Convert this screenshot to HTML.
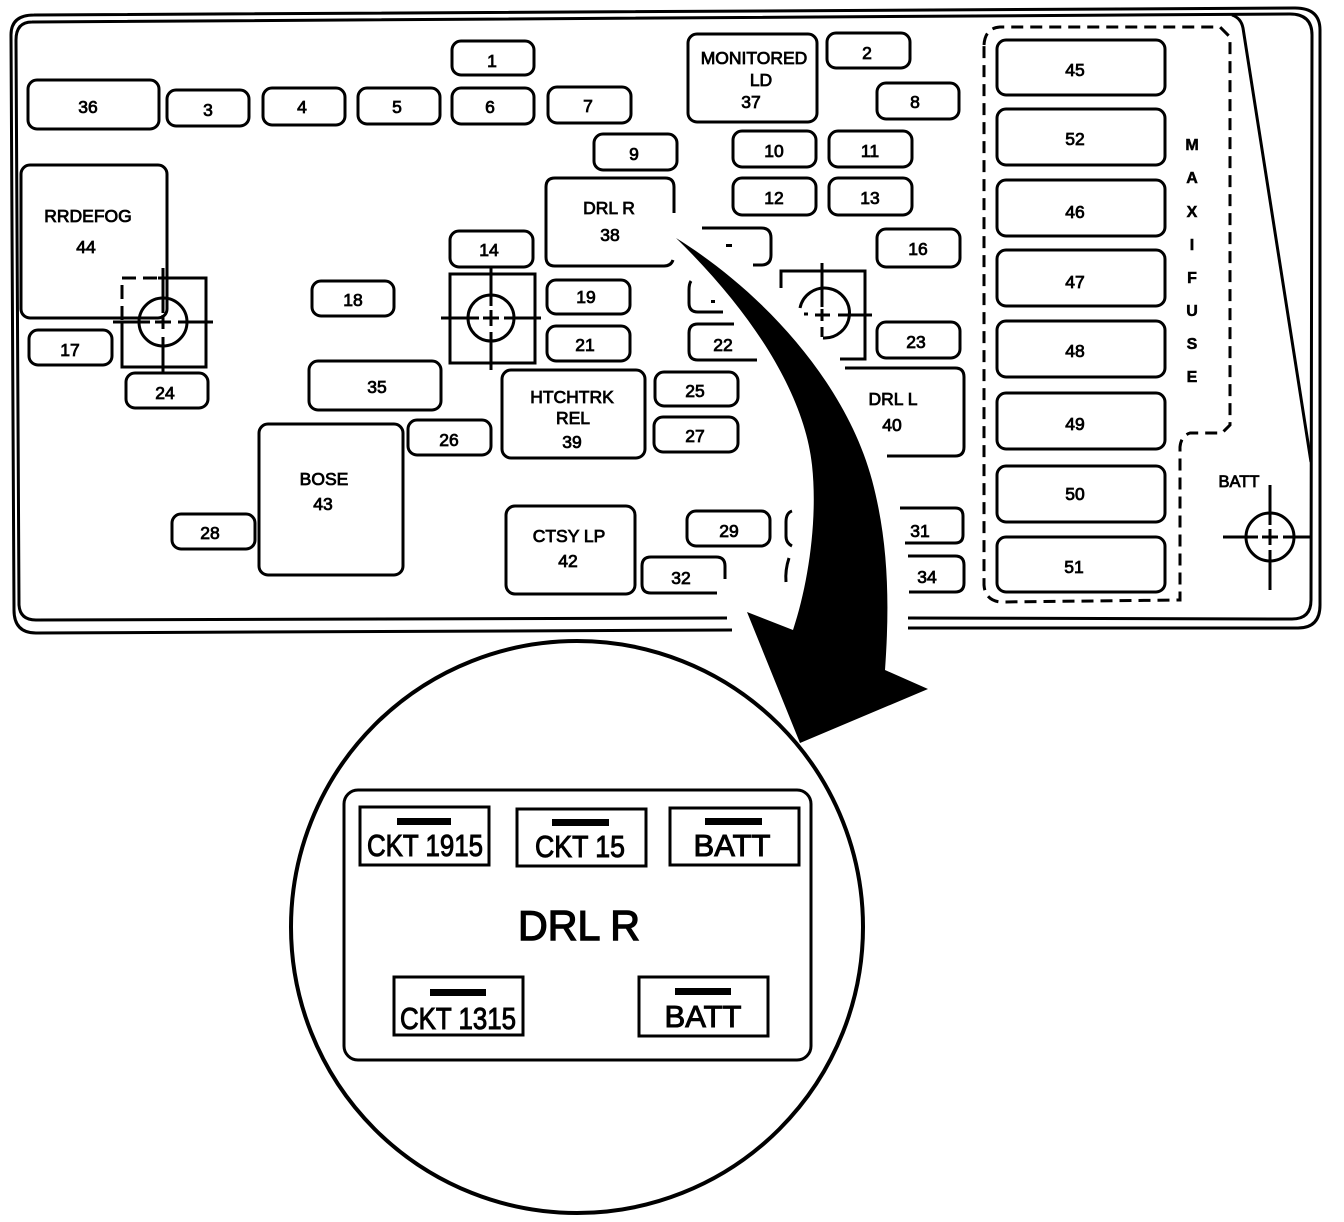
<!DOCTYPE html>
<html><head><meta charset="utf-8"><title>Fuse block diagram</title>
<style>
html,body{margin:0;padding:0;background:#fff;width:1344px;height:1222px;overflow:hidden}
svg{display:block}
.f{fill:none;stroke:#000;stroke-width:3}
.s{fill:none;stroke:#000;stroke-width:3;stroke-linecap:butt}
text{font-family:"Liberation Sans",Arial,sans-serif;fill:#000;stroke:#000;stroke-width:.8;font-size:17.5px;text-anchor:middle}
.m{font-size:16px;font-weight:bold;stroke-width:.5}
.b{font-size:31px;stroke-width:1}
</style></head><body>
<svg width="1344" height="1222" viewBox="0 0 1344 1222" xmlns="http://www.w3.org/2000/svg">
<!-- housing -->
<path class="s" d="M34,15 L1295,8 Q1320,8 1320,30 L1320,605 Q1320,628 1298,628 L908,628 M732,630 L36,633 Q14,633 14,610 L11,35 Q11,15 34,15"/>
<path class="s" d="M32,22 L1290,14 Q1312,14 1312,35 L1311,600 Q1311,619 1292,619 L908,618 M727,618 L36,620 Q20,620 19,605 L16,40 Q16,22 32,22"/>
<path class="s" d="M1232,15 Q1241,18 1243,28 L1311,462"/>
<!-- maxi dashed -->
<path d="M984,45 Q985,28 1000,27 L1220,27 L1230,37 L1230,425 L1222,433 L1190,433 Q1181,436 1180,447 L1180,600 L1000,602 Q985,600 984,585 Z" fill="none" stroke="#000" stroke-width="3" stroke-dasharray="12 7"/>
<!-- small fuses -->
<g class="f">
<rect x="452" y="41" width="82" height="34" rx="9"/>
<rect x="827" y="33" width="83" height="35" rx="9"/>
<rect x="28" y="80" width="131" height="49" rx="9"/>
<rect x="167" y="90" width="82" height="36" rx="9"/>
<rect x="263" y="88" width="82" height="37" rx="9"/>
<rect x="358" y="88" width="82" height="36" rx="9"/>
<rect x="452" y="88" width="82" height="36" rx="9"/>
<rect x="548" y="87" width="83" height="36" rx="9"/>
<rect x="877" y="83" width="82" height="36" rx="9"/>
<rect x="688" y="34" width="129" height="88" rx="9"/>
<rect x="594" y="134" width="83" height="36" rx="9"/>
<rect x="733" y="131" width="83" height="36" rx="9"/>
<rect x="829" y="131" width="83" height="36" rx="9"/>
<rect x="733" y="178" width="83" height="37" rx="9"/>
<rect x="829" y="178" width="83" height="37" rx="9"/>
<rect x="877" y="229" width="83" height="38" rx="9"/>
<rect x="450" y="231" width="83" height="36" rx="9"/>
<rect x="312" y="281" width="82" height="35" rx="9"/>
<rect x="547" y="280" width="83" height="34" rx="9"/>
<rect x="547" y="326" width="83" height="35" rx="9"/>
<rect x="877" y="322" width="83" height="36" rx="9"/>
<rect x="29" y="330" width="83" height="35" rx="9"/>
<rect x="126" y="373" width="82" height="35" rx="9"/>
<rect x="309" y="361" width="132" height="49" rx="9"/>
<rect x="21" y="165" width="146" height="153" rx="9"/>
<rect x="655" y="372" width="83" height="34" rx="9"/>
<rect x="654" y="417" width="84" height="35" rx="9"/>
<rect x="408" y="420" width="83" height="35" rx="9"/>
<rect x="502" y="370" width="143" height="88" rx="9"/>
<rect x="259" y="424" width="144" height="151" rx="9"/>
<rect x="172" y="514" width="83" height="35" rx="9"/>
<rect x="687" y="511" width="83" height="35" rx="9"/>
<rect x="506" y="506" width="129" height="88" rx="9"/>
<!-- maxi -->
<rect x="997" y="40" width="168" height="55" rx="9"/>
<rect x="997" y="109" width="168" height="56" rx="9"/>
<rect x="997" y="180" width="168" height="56" rx="9"/>
<rect x="997" y="250" width="168" height="56" rx="9"/>
<rect x="997" y="321" width="168" height="56" rx="9"/>
<rect x="997" y="393" width="168" height="56" rx="9"/>
<rect x="997" y="466" width="168" height="56" rx="9"/>
<rect x="997" y="537" width="168" height="55" rx="9"/>
<!-- partial shapes cut by the arrow -->
<path d="M674,213 V187 Q674,178 665,178 H555 Q546,178 546,187 V257 Q546,266 555,266 H664 Q671,266 673,260"/>
<path d="M702,228 H761 Q771,228 771,238 V255 Q771,265 761,265 H753"/>
<path d="M691,281 Q689,284 689,290 V303 Q689,312 698,312 H723"/>
<path d="M734,324 H698 Q689,324 689,333 V351 Q689,360 698,360 H757"/>
<path d="M845,368 H955 Q964,368 964,377 V447 Q964,456 955,456 H887"/>
<path d="M792,511 Q786,513 786,522 V536 Q786,543 792,546"/>
<path d="M789,558 Q785,570 786,582"/>
<path d="M900,508 H955 Q963,508 963,516 V535 Q963,543 955,543 H905"/>
<path d="M908,556 H955 Q964,556 964,565 V583 Q964,592 955,592 H909"/>
<path d="M725,579 V566 Q725,557 716,557 H651 Q642,557 642,566 V584 Q642,593 651,593 H717"/>
</g>
<rect x="726" y="244" width="6" height="3"/><rect x="711" y="300" width="4" height="3"/>
<!-- crosshair A -->
<g class="s">
<path d="M122,322 V367 H206 V278 H158"/>
<path d="M122,320 V278 H158" stroke-dasharray="14 7"/>
<circle cx="163" cy="322" r="24"/>
<path d="M113,322 H150 M155,322 H171 M178,322 H213 M163,268 V313 M163,315 V329 M163,337 V372"/>
</g>
<!-- crosshair B -->
<g class="s">
<rect x="450" y="274" width="85" height="89"/>
<circle cx="491" cy="318" r="23"/>
<path d="M441,318 H479 M483,318 H499 M504,318 H541 M491,266 V306 M491,310 V326 M491,332 V370"/>
</g>
<!-- crosshair C -->
<g class="s">
<path d="M781,288 V271 H865 V359 H840"/>
<path d="M800,308 A25,25 0 1 1 823,338"/>
<path d="M822,263 V307 M815,315 H830 M822,309 V321 M822,327 V337 M838,315 H872 M804,314 H808"/>
</g>
<!-- crosshair BATT -->
<g class="s">
<circle cx="1270" cy="537" r="24"/>
<path d="M1223,537 H1258 M1262,537 H1278 M1283,537 H1310 M1270,485 V525 M1270,529 V545 M1270,550 V590"/>
</g>
<!-- labels -->
<text x="492" y="67">1</text><text x="867" y="59">2</text><text x="88" y="113">36</text>
<text x="208" y="116">3</text><text x="302" y="113">4</text><text x="397" y="113">5</text>
<text x="490" y="113">6</text><text x="588" y="112">7</text><text x="915" y="108">8</text>
<text x="754" y="64">MONITORED</text><text x="761" y="86">LD</text><text x="751" y="108">37</text>
<text x="634" y="160">9</text><text x="774" y="157">10</text><text x="870" y="157">11</text>
<text x="774" y="204">12</text><text x="870" y="204">13</text>
<text x="609" y="214">DRL R</text><text x="610" y="241">38</text>
<text x="489" y="256">14</text><text x="918" y="255">16</text>
<text x="88" y="222">RRDEFOG</text><text x="86" y="253">44</text>
<text x="353" y="306">18</text><text x="586" y="303">19</text><text x="585" y="351">21</text>
<text x="723" y="351">22</text><text x="916" y="348">23</text><text x="70" y="356">17</text>
<text x="165" y="399">24</text><text x="377" y="393">35</text>
<text x="695" y="397">25</text><text x="695" y="442">27</text><text x="449" y="446">26</text>
<text x="572" y="403">HTCHTRK</text><text x="573" y="424">REL</text><text x="572" y="448">39</text>
<text x="893" y="405">DRL L</text><text x="892" y="431">40</text>
<text x="324" y="485">BOSE</text><text x="323" y="510">43</text>
<text x="210" y="539">28</text><text x="729" y="537">29</text>
<text x="569" y="542">CTSY LP</text><text x="568" y="567">42</text>
<text x="920" y="537">31</text><text x="927" y="583">34</text><text x="681" y="584">32</text>
<text x="1075" y="76">45</text><text x="1075" y="145">52</text><text x="1075" y="218">46</text>
<text x="1075" y="288">47</text><text x="1075" y="357">48</text><text x="1075" y="430">49</text>
<text x="1075" y="500">50</text><text x="1074" y="573">51</text>
<text class="m" x="1192" y="150">M</text><text class="m" x="1192" y="183">A</text>
<text class="m" x="1192" y="217">X</text><text class="m" x="1192" y="250">I</text>
<text class="m" x="1192" y="283">F</text><text class="m" x="1192" y="316">U</text>
<text class="m" x="1192" y="349">S</text><text class="m" x="1192" y="382">E</text>
<text x="1239" y="487" style="font-size:16.5px">BATT</text>
<!-- magnified circle -->
<circle cx="577" cy="927" r="286" fill="none" stroke="#000" stroke-width="4"/>
<!-- arrow -->
<path fill="#000" d="M676,238 C760,290 845,380 872,480 C888,540 890,600 885,670 L928,689 L800,743 L747,612 L793,630 C808,585 818,520 812,465 C805,400 760,320 676,238 Z"/>
<!-- detail panel -->
<rect x="344" y="790" width="467" height="270" rx="14" fill="none" stroke="#000" stroke-width="3"/>
<g class="f">
<rect x="360" y="807" width="129" height="58"/>
<rect x="517" y="809" width="129" height="57"/>
<rect x="670" y="808" width="129" height="57"/>
<rect x="394" y="977" width="129" height="58"/>
<rect x="639" y="977" width="129" height="59"/>
</g>
<rect x="397" y="818" width="54" height="7"/><rect x="552" y="819" width="57" height="7"/>
<rect x="705" y="818" width="57" height="7"/><rect x="430" y="989" width="56" height="7"/>
<rect x="675" y="988" width="56" height="7"/>
<text class="b" x="425" y="856" textLength="116" lengthAdjust="spacingAndGlyphs">CKT 1915</text>
<text class="b" x="580" y="857" textLength="90" lengthAdjust="spacingAndGlyphs">CKT 15</text>
<text class="b" x="732" y="856">BATT</text>
<text class="b" x="458" y="1029" textLength="116" lengthAdjust="spacingAndGlyphs">CKT 1315</text>
<text class="b" x="703" y="1027">BATT</text>
<text x="579" y="940" style="font-size:42px;stroke-width:1.4" textLength="122" lengthAdjust="spacingAndGlyphs">DRL R</text>
</svg>
</body></html>
